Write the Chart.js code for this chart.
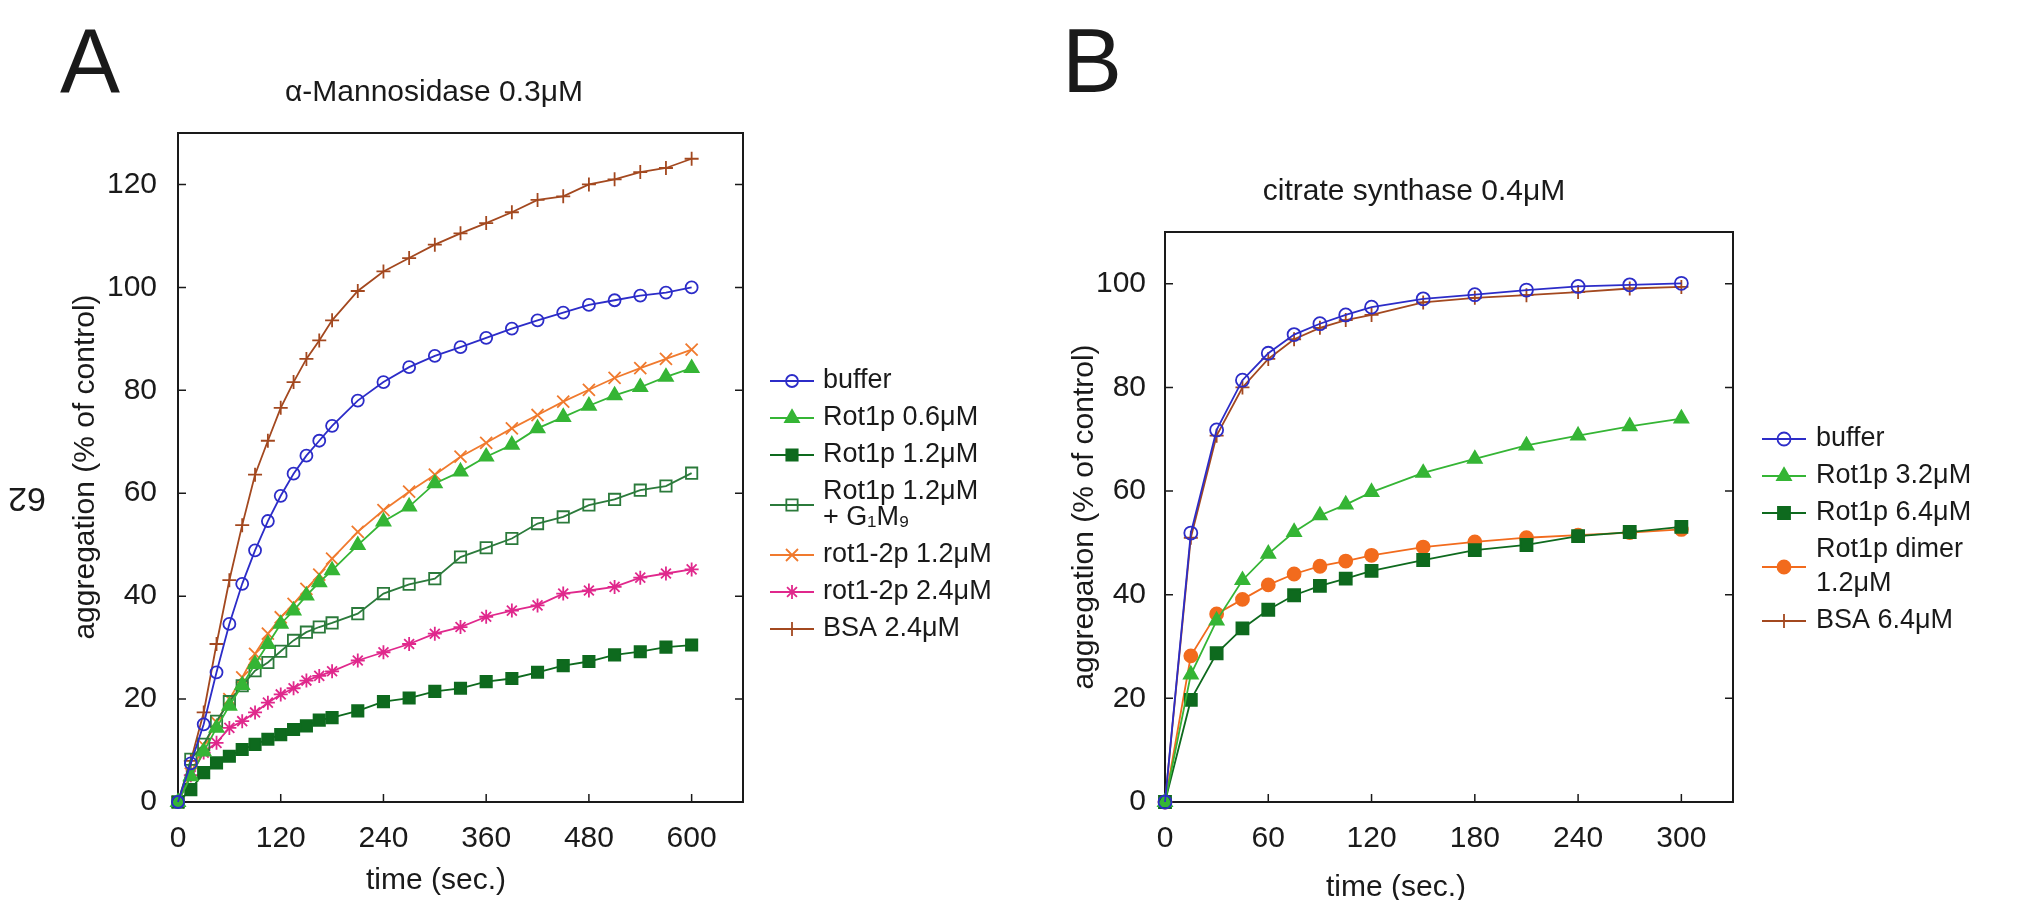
<!DOCTYPE html>
<html>
<head>
<meta charset="utf-8">
<script src="https://cdn.jsdelivr.net/npm/chart.js@4"></script>
<style>
  html, body { margin: 0; padding: 0; background: #fff; }
  body { width: 2025px; height: 900px; position: relative; overflow: hidden; }
  .panel { position: absolute; top: 0; height: 900px; }
  #panelA { left: 0; width: 1010px; }
  #panelB { left: 1010px; width: 1015px; }
</style>
</head>
<body>
<div class="panel" id="panelA"><canvas id="chartA"></canvas></div>
<div class="panel" id="panelB"><canvas id="chartB"></canvas></div>
<script>
// ---- panel A : alpha-Mannosidase 0.3uM ----
const timeA = [0, 15, 30, 45, 60, 75, 90, 105, 120, 135, 150, 165, 180, 210, 240, 270, 300, 330, 360, 390, 420, 450, 480, 510, 540, 570, 600];
const xTicksA = [0, 120, 240, 360, 480, 600];
const yTicksA = [0, 20, 40, 60, 80, 100, 120];
const namesA = ['buffer', 'Rot1p 0.6μM', 'Rot1p 1.2μM', 'Rot1p 1.2μM\n+ G₁M₉', 'rot1-2p 1.2μM', 'rot1-2p 2.4μM', 'BSA 2.4μM'];
const bufferA = [0, 7.5, 15.1, 25.2, 34.6, 42.4, 48.9, 54.6, 59.5, 63.8, 67.3, 70.2, 73.1, 78.0, 81.6, 84.5, 86.7, 88.4, 90.2, 92.0, 93.6, 95.1, 96.6, 97.5, 98.4, 99.0, 100.0];
const rot1p06A = [0, 5.0, 9.8, 14.4, 18.7, 22.7, 26.8, 30.7, 34.6, 37.2, 40.1, 42.7, 45.0, 49.9, 54.5, 57.4, 61.9, 64.2, 67.1, 69.4, 72.6, 74.8, 77.0, 79.0, 80.6, 82.6, 84.3];
const rot1p12A = [0, 2.4, 5.7, 7.6, 8.9, 10.2, 11.2, 12.2, 13.1, 14.1, 14.8, 15.9, 16.4, 17.7, 19.5, 20.2, 21.5, 22.1, 23.4, 24.0, 25.2, 26.5, 27.3, 28.6, 29.2, 30.1, 30.5];
const rot1p12g1m9A = [0, 8.3, 11.2, 15.7, 19.5, 22.6, 25.5, 27.1, 29.3, 31.4, 33.0, 34.0, 34.8, 36.6, 40.5, 42.3, 43.4, 47.6, 49.4, 51.2, 54.1, 55.4, 57.7, 58.8, 60.6, 61.4, 63.9];
const rot12p12A = [0, 5.5, 11.0, 15.5, 20.0, 24.2, 28.8, 32.7, 35.9, 38.5, 41.4, 44.2, 47.3, 52.5, 56.7, 60.3, 63.6, 67.1, 69.8, 72.6, 75.2, 77.8, 80.1, 82.4, 84.3, 86.1, 87.9];
const rot12p24A = [0, 5.2, 9.6, 11.5, 14.4, 15.7, 17.4, 19.3, 20.9, 22.1, 23.6, 24.5, 25.4, 27.5, 29.1, 30.7, 32.7, 34.0, 36.0, 37.2, 38.2, 40.5, 41.1, 41.8, 43.6, 44.4, 45.2];
const bsaA = [0, 8.0, 17.4, 30.7, 43.1, 53.8, 63.6, 70.2, 76.6, 81.6, 86.1, 89.7, 93.6, 99.3, 103.1, 105.7, 108.3, 110.5, 112.5, 114.6, 117.0, 117.7, 120.0, 121.0, 122.4, 123.2, 125.0];

// ---- panel B : citrate synthase 0.4uM ----
const timeB = [0, 15, 30, 45, 60, 75, 90, 105, 120, 150, 180, 210, 240, 270, 300];
const xTicksB = [0, 60, 120, 180, 240, 300];
const yTicksB = [0, 20, 40, 60, 80, 100];
const namesB = ['buffer', 'Rot1p 3.2μM', 'Rot1p 6.4μM', 'Rot1p dimer\n1.2μM', 'BSA 6.4μM'];
const bufferB = [0, 51.9, 71.8, 81.4, 86.6, 90.2, 92.3, 94.0, 95.5, 97.1, 97.9, 98.8, 99.5, 99.8, 100.1];
const rot1p32B = [0, 24.6, 35.0, 42.8, 47.9, 52.1, 55.3, 57.4, 59.8, 63.5, 66.2, 68.8, 70.7, 72.5, 74.0];
const rot1p64B = [0, 19.7, 28.7, 33.5, 37.1, 39.9, 41.7, 43.1, 44.6, 46.7, 48.6, 49.6, 51.3, 52.1, 53.1];
const dimerB = [0, 28.2, 36.3, 39.1, 41.9, 44.0, 45.5, 46.5, 47.6, 49.2, 50.2, 51.0, 51.5, 52.0, 52.6];
const bsaB = [0, 51.0, 70.7, 80.0, 85.5, 89.3, 91.5, 93.0, 94.0, 96.4, 97.3, 97.8, 98.4, 99.1, 99.4];

const FONT = '"Liberation Sans", Arial, Helvetica, sans-serif';
const INK = '#1a1a1a';

function series(label, xs, ys, color, style, radius, fill) {
    return {
        label: label.replace('\n', ' '),
        data: xs.map((x, i) => ({ x: x, y: ys[i] })),
        borderColor: color,
        borderWidth: 1.8,
        pointStyle: style,
        pointRadius: radius,
        pointHoverRadius: radius,
        pointBorderColor: color,
        pointBackgroundColor: fill ? color : 'rgba(0,0,0,0)',
        pointBorderWidth: 1.8,
        tension: 0,
        fill: false,
        clip: false
    };
}

// frame, inner ticks, titles, panel letter and legend in gnuplot style
const gnuplotLook = {
    id: 'gnuplotLook',
    beforeDatasetsDraw(chart, args, o) {
        const ctx = chart.ctx;
        const a = chart.chartArea;
        const xs = chart.scales.x, ys = chart.scales.y;
        ctx.save();
        ctx.strokeStyle = INK;
        ctx.lineWidth = 2;
        ctx.strokeRect(a.left, a.top, a.right - a.left, a.bottom - a.top);
        ctx.lineWidth = 1.5;
        ctx.beginPath();
        xs.ticks.forEach(t => {
            const px = xs.getPixelForValue(t.value);
            ctx.moveTo(px, a.bottom);
            ctx.lineTo(px, a.bottom - 8);
        });
        ys.ticks.forEach(t => {
            const py = ys.getPixelForValue(t.value);
            ctx.moveTo(a.left, py);
            ctx.lineTo(a.left + 8, py);
            ctx.moveTo(a.right, py);
            ctx.lineTo(a.right - 8, py);
        });
        ctx.stroke();
        ctx.restore();
    },
    afterDraw(chart, args, o) {
        const ctx = chart.ctx;
        ctx.save();
        ctx.fillStyle = INK;
        ctx.textAlign = 'left';
        ctx.textBaseline = 'alphabetic';
        ctx.font = '90px ' + FONT;
        ctx.fillText(o.letter, o.letterX, o.letterY);

        ctx.textAlign = 'center';
        ctx.font = '30px ' + FONT;
        ctx.fillText(o.title, o.titleX, o.titleY);

        // axis titles
        ctx.textBaseline = 'middle';
        ctx.fillText('time (sec.)', o.xTitle.x, o.xTitle.y);
        ctx.save();
        ctx.translate(o.yTitle.x, o.yTitle.y);
        ctx.rotate(-Math.PI / 2);
        ctx.fillText('aggregation (% of control)', 0, 0);
        ctx.restore();

        if (o.extra) {
            ctx.save();
            ctx.translate(o.extra.x, o.extra.y);
            ctx.rotate(Math.PI);
            ctx.font = '34px ' + FONT;
            ctx.fillText(o.extra.text, 0, 0);
            ctx.restore();
        }

        // legend
        const lg = o.legend;
        let y = lg.y;
        ctx.textAlign = 'left';
        ctx.textBaseline = 'middle';
        ctx.font = lg.size + 'px ' + FONT;
        chart.data.datasets.forEach((ds, i) => {
            const lines = o.names[i].split('\n');
            const midY = y + (lines.length - 1) * lg.lineGap / 2;
            ctx.strokeStyle = ds.borderColor;
            ctx.lineWidth = ds.borderWidth;
            ctx.beginPath();
            ctx.moveTo(lg.x0, midY);
            ctx.lineTo(lg.x1, midY);
            ctx.stroke();
            ctx.fillStyle = ds.pointBackgroundColor;
            ctx.strokeStyle = ds.pointBorderColor;
            ctx.lineWidth = ds.pointBorderWidth;
            Chart.helpers.drawPoint(ctx, {
                pointStyle: ds.pointStyle,
                radius: ds.pointRadius,
                rotation: 0,
                borderWidth: ds.pointBorderWidth
            }, (lg.x0 + lg.x1) / 2, midY);
            ctx.fillStyle = INK;
            lines.forEach((t, k) => ctx.fillText(t, lg.textX, y + k * lg.lineGap));
            y += (lines.length - 1) * lg.lineGap + lg.rowStep;
        });
        ctx.restore();
    }
};

function makeOptions(p) {
    return {
        responsive: true,
        maintainAspectRatio: false,
        animation: false,
        devicePixelRatio: 1,
        layout: { padding: { left: 0, top: p.top, right: p.right, bottom: 0 } },
        plugins: {
            legend: { display: false },
            tooltip: { enabled: false },
            gnuplotLook: p.look
        },
        scales: {
            x: {
                type: 'linear',
                min: 0,
                max: p.xMax,
                afterFit: s => { s.height = 900 - p.bottom; },
                afterBuildTicks: s => { s.ticks = p.xTicks.map(v => ({ value: v })); },
                grid: { display: false, drawTicks: false },
                border: { display: false },
                ticks: { color: INK, font: { family: FONT, size: 30 }, padding: 19, maxRotation: 0, autoSkip: false }
            },
            y: {
                type: 'linear',
                min: 0,
                max: p.yMax,
                afterFit: s => { s.width = p.left; },
                afterBuildTicks: s => { s.ticks = p.yTicks.map(v => ({ value: v })); },
                grid: { display: false, drawTicks: false },
                border: { display: false },
                ticks: { color: INK, font: { family: FONT, size: 30 }, padding: p.yTickPad, autoSkip: false }
            }
        }
    };
}

new Chart(document.getElementById('chartA'), {
    type: 'line',
    data: {
        datasets: [
            series(namesA[0], timeA, bufferA, '#2c2cc8', 'circle', 6, false),
            series(namesA[1], timeA, rot1p06A, '#35b535', 'triangle', 8, true),
            series(namesA[2], timeA, rot1p12A, '#0e6a1e', 'rect', 8, true),
            series(namesA[3], timeA, rot1p12g1m9A, '#2b7a3b', 'rect', 8, false),
            series(namesA[4], timeA, rot12p12A, '#f07a2e', 'crossRot', 8.5, false),
            series(namesA[5], timeA, rot12p24A, '#e0288c', 'star', 7, false),
            series(namesA[6], timeA, bsaA, '#a3481f', 'cross', 7, false)
        ]
    },
    options: makeOptions({
        top: 133, right: 1010 - 743, left: 178, bottom: 802,
        xMax: 660, yMax: 130, xTicks: xTicksA, yTicks: yTicksA,
        yTickPad: 21,
        look: {
            letter: 'A', letterX: 60, letterY: 92,
            title: 'α-Mannosidase 0.3μM', titleX: 434, titleY: 101,
            xTitle: { x: 436, y: 881 },
            yTitle: { x: 86, y: 467 },
            names: namesA,
            extra: { text: '62', x: 27, y: 497 },
            legend: { x0: 770, x1: 814, textX: 823, y: 381, rowStep: 37, lineGap: 26, size: 27 }
        }
    }),
    plugins: [gnuplotLook]
});

new Chart(document.getElementById('chartB'), {
    type: 'line',
    data: {
        datasets: [
            series(namesB[0], timeB, bufferB, '#2c2cc8', 'circle', 6.5, false),
            series(namesB[1], timeB, rot1p32B, '#35b535', 'triangle', 8, true),
            series(namesB[2], timeB, rot1p64B, '#0e6a1e', 'rect', 8.5, true),
            series(namesB[3], timeB, dimerB, '#f26b1d', 'circle', 6.5, true),
            series(namesB[4], timeB, bsaB, '#a3481f', 'cross', 7, false)
        ]
    },
    options: makeOptions({
        top: 232, right: 1015 - 723, left: 155, bottom: 802,
        xMax: 330, yMax: 110, xTicks: xTicksB, yTicks: yTicksB,
        yTickPad: 19,
        look: {
            letter: 'B', letterX: 52, letterY: 92,
            title: 'citrate synthase 0.4μM', titleX: 404, titleY: 200,
            xTitle: { x: 386, y: 888 },
            yTitle: { x: 75, y: 517 },
            names: namesB,
            legend: { x0: 752, x1: 796, textX: 806, y: 439, rowStep: 37, lineGap: 34, size: 27 }
        }
    }),
    plugins: [gnuplotLook]
});
</script>
</body>
</html>
